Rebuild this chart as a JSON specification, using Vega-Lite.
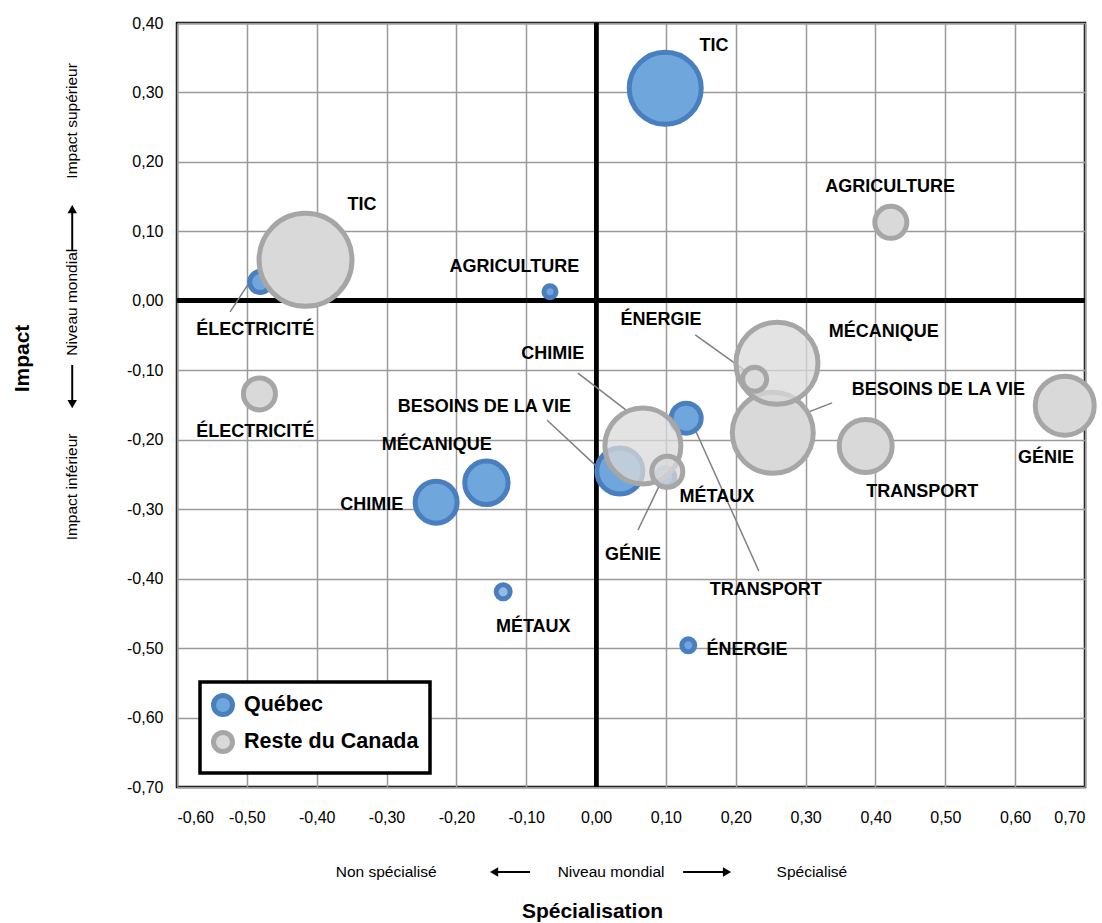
{
  "$schema": "https://vega.github.io/schema/vega-lite/v6.json",
  "width": 908,
  "height": 764,
  "autosize": {"type": "none"},
  "padding": {"left": 177, "top": 23, "right": 17, "bottom": 136},
  "background": "white",
  "config": {
    "locale": {"number": {"decimal": ",", "thousands": " ", "grouping": [3], "currency": ["", " €"], "minus": "-"}},
    "view": {"stroke": "#000000", "strokeWidth": 2.5},
    "axis": {
      "labelFont": "Liberation Sans",
      "labelFontSize": 16,
      "labelColor": "#000000",
      "grid": true,
      "gridColor": "#9a9a9a",
      "gridWidth": 1.5,
      "ticks": false,
      "domain": false,
      "titleFont": "Liberation Sans",
      "titleFontWeight": "bold",
      "titleFontSize": 21,
      "titleColor": "#000000"
    },
    "legend": {
      "orient": "none",
      "legendX": 23,
      "legendY": 659,
      "strokeColor": "#000000",
      "strokeWidth": 3.5,
      "fillColor": "#ffffff",
      "padding": 11,
      "labelFont": "Liberation Sans",
      "labelFontWeight": "bold",
      "labelFontSize": 21.5,
      "labelColor": "#000000",
      "labelLimit": 300,
      "labelOffset": 9,
      "symbolSize": 360,
      "symbolStrokeWidth": 5,
      "rowPadding": -3
    }
  },
  "datasets": {
    "bulles": [
      {"region": "Québec", "secteur": "TIC", "specialisation": 0.099, "impact": 0.306, "volume": 1296, "motif": "uni", "labX": 0.169, "labY": 0.367},
      {"region": "Québec", "secteur": "ÉLECTRICITÉ", "specialisation": -0.481, "impact": 0.027, "volume": 110, "motif": "uni", "labX": -0.488, "labY": -0.042, "lx1": -0.524, "ly1": -0.016, "lx2": -0.498, "ly2": 0.024},
      {"region": "Québec", "secteur": "AGRICULTURE", "specialisation": -0.066, "impact": 0.013, "volume": 36, "motif": "uni", "labX": -0.117, "labY": 0.049},
      {"region": "Québec", "secteur": "CHIMIE", "specialisation": -0.229, "impact": -0.29, "volume": 441, "motif": "uni", "labX": -0.321, "labY": -0.294},
      {"region": "Québec", "secteur": "MÉCANIQUE", "specialisation": -0.157, "impact": -0.262, "volume": 470, "motif": "uni", "labX": -0.228, "labY": -0.207},
      {"region": "Québec", "secteur": "MÉTAUX", "specialisation": -0.133, "impact": -0.419, "volume": 49, "motif": "quadrillé", "labX": -0.09, "labY": -0.47},
      {"region": "Québec", "secteur": "ÉNERGIE", "specialisation": 0.132, "impact": -0.496, "volume": 42, "motif": "uni", "labX": 0.216, "labY": -0.503},
      {"region": "Québec", "secteur": "TRANSPORT", "specialisation": 0.129, "impact": -0.169, "volume": 225, "motif": "uni", "labX": 0.243, "labY": -0.416, "lx1": 0.142, "ly1": -0.186, "lx2": 0.233, "ly2": -0.389},
      {"region": "Québec", "secteur": "BESOINS DE LA VIE", "specialisation": 0.034, "impact": -0.245, "volume": 529, "motif": "uni", "labX": -0.16, "labY": -0.153, "lx1": -0.07, "ly1": -0.172, "lx2": 0.01, "ly2": -0.247},
      {"region": "Québec", "secteur": "GÉNIE", "specialisation": 0.099, "impact": -0.254, "volume": 90, "motif": "uni", "labX": 0.053, "labY": -0.366, "lx1": 0.06, "ly1": -0.33, "lx2": 0.0916, "ly2": -0.264},
      {"region": "Reste du Canada", "secteur": "TIC", "specialisation": -0.416, "impact": 0.059, "volume": 2160, "motif": "uni", "labX": -0.335, "labY": 0.138},
      {"region": "Reste du Canada", "secteur": "AGRICULTURE", "specialisation": 0.422, "impact": 0.113, "volume": 256, "motif": "uni", "labX": 0.421, "labY": 0.164},
      {"region": "Reste du Canada", "secteur": "ÉLECTRICITÉ", "specialisation": -0.482, "impact": -0.134, "volume": 256, "motif": "uni", "labX": -0.488, "labY": -0.189},
      {"region": "Reste du Canada", "secteur": "BESOINS DE LA VIE", "specialisation": 0.253, "impact": -0.19, "volume": 1640, "motif": "uni", "labX": 0.49, "labY": -0.128, "lx1": 0.338, "ly1": -0.147, "lx2": 0.299, "ly2": -0.162},
      {"region": "Reste du Canada", "secteur": "MÉCANIQUE", "specialisation": 0.259, "impact": -0.09, "volume": 1680, "motif": "quadrillé", "labX": 0.412, "labY": -0.045},
      {"region": "Reste du Canada", "secteur": "ÉNERGIE", "specialisation": 0.227, "impact": -0.113, "volume": 144, "motif": "quadrillé", "labX": 0.093, "labY": -0.028, "lx1": 0.142, "ly1": -0.049, "lx2": 0.213, "ly2": -0.1},
      {"region": "Reste du Canada", "secteur": "CHIMIE", "specialisation": 0.067, "impact": -0.209, "volume": 1444, "motif": "quadrillé", "labX": -0.062, "labY": -0.077, "lx1": -0.026, "ly1": -0.104, "lx2": 0.044, "ly2": -0.158},
      {"region": "Reste du Canada", "secteur": "MÉTAUX", "specialisation": 0.102, "impact": -0.246, "volume": 240, "motif": "quadrillé", "labX": 0.173, "labY": -0.282},
      {"region": "Reste du Canada", "secteur": "TRANSPORT", "specialisation": 0.386, "impact": -0.209, "volume": 702, "motif": "uni", "labX": 0.467, "labY": -0.275},
      {"region": "Reste du Canada", "secteur": "GÉNIE", "specialisation": 0.671, "impact": -0.151, "volume": 870, "motif": "uni", "labX": 0.644, "labY": -0.226}
    ],
    "notes": [
      {"axe": "x", "texte": "Non spécialisé", "px": -0.3006, "py": -0.8225},
      {"axe": "x", "texte": "Niveau mondial", "px": 0.0215, "py": -0.8225},
      {"axe": "x", "texte": "Spécialisé", "px": 0.309, "py": -0.8225},
      {"axe": "y", "texte": "Impact supérieur", "px": -0.75, "py": 0.259},
      {"axe": "y", "texte": "Niveau mondial", "px": -0.75, "py": -0.002},
      {"axe": "y", "texte": "Impact inférieur", "px": -0.75, "py": -0.268}
    ],
    "fleches": [
      {"dir": "gauche", "tx": -0.0945, "ty": -0.8225, "hx": -0.146, "hy": -0.8225},
      {"dir": "droite", "tx": 0.1246, "ty": -0.8225, "hx": 0.1875, "hy": -0.8225},
      {"dir": "haut", "tx": -0.75, "ty": 0.0732, "hx": -0.75, "hy": 0.132},
      {"dir": "bas", "tx": -0.75, "ty": -0.0924, "hx": -0.75, "hy": -0.1487}
    ]
  },
  "layer": [
    {
      "data": {"name": "bulles"},
      "mark": {"type": "rule", "color": "#000000", "strokeWidth": 4},
      "encoding": {
        "x": {"datum": 0, "type": "quantitative", "scale": {"domain": [-0.6, 0.7], "nice": false, "zero": false},
          "axis": {"values": [-0.6, -0.5, -0.4, -0.3, -0.2, -0.1, 0, 0.1, 0.2, 0.3, 0.4, 0.5, 0.6, 0.7], "format": ".2f", "labelPadding": 22,
            "title": "Spécialisation", "titleX": 415, "titleY": 124, "titleBaseline": "middle", "titleAlign": "center"}}
      }
    },
    {
      "data": {"name": "bulles"},
      "mark": {"type": "rule", "color": "#000000", "strokeWidth": 4},
      "encoding": {
        "y": {"datum": 0, "type": "quantitative", "scale": {"domain": [-0.7, 0.4], "nice": false, "zero": false},
          "axis": {"values": [-0.7, -0.6, -0.5, -0.4, -0.3, -0.2, -0.1, 0, 0.1, 0.2, 0.3, 0.4], "format": ".2f", "labelPadding": 14,
            "title": "Impact", "titleX": -155, "titleY": 335, "titleBaseline": "middle", "titleAlign": "center", "titleAngle": -90}}
      }
    },
    {
      "data": {"name": "bulles"},
      "transform": [{"filter": "isValid(datum.lx1)"}],
      "mark": {"type": "rule", "color": "#7f7f7f", "strokeWidth": 1.5},
      "encoding": {
        "x": {"field": "lx1", "type": "quantitative"},
        "y": {"field": "ly1", "type": "quantitative"},
        "x2": {"field": "lx2"},
        "y2": {"field": "ly2"}
      }
    },
    {
      "data": {"name": "bulles"},
      "mark": {"type": "point", "shape": "circle", "filled": true, "strokeWidth": 5, "opacity": 1},
      "encoding": {
        "x": {"field": "specialisation", "type": "quantitative"},
        "y": {"field": "impact", "type": "quantitative"},
        "size": {"field": "volume", "type": "quantitative", "scale": {"type": "linear", "domain": [0, 2500], "range": [0, 10000]}, "legend": null},
        "fill": {"field": "region", "type": "nominal", "scale": {"domain": ["Québec", "Reste du Canada"], "range": ["#6fa6dc", "#d9d9d9"]}, "legend": {"title": null}},
        "stroke": {"field": "region", "type": "nominal", "scale": {"domain": ["Québec", "Reste du Canada"], "range": ["#4a7fbf", "#a6a6a6"]}, "legend": {"title": null}},
        "fillOpacity": {"field": "motif", "type": "nominal", "scale": {"domain": ["uni", "quadrillé"], "range": [1, 0.75]}, "legend": null}
      }
    },
    {
      "data": {"name": "bulles"},
      "mark": {"type": "text", "font": "Liberation Sans", "fontWeight": "bold", "fontSize": 18, "color": "#000000", "align": "center", "baseline": "middle"},
      "encoding": {
        "x": {"field": "labX", "type": "quantitative"},
        "y": {"field": "labY", "type": "quantitative"},
        "text": {"field": "secteur"}
      }
    },
    {
      "data": {"name": "notes"},
      "transform": [{"filter": "datum.axe === 'x'"}],
      "mark": {"type": "text", "font": "Liberation Sans", "fontSize": 15.5, "color": "#000000", "align": "center", "baseline": "middle"},
      "encoding": {
        "x": {"field": "px", "type": "quantitative"},
        "y": {"field": "py", "type": "quantitative"},
        "text": {"field": "texte"}
      }
    },
    {
      "data": {"name": "notes"},
      "transform": [{"filter": "datum.axe === 'y'"}],
      "mark": {"type": "text", "font": "Liberation Sans", "fontSize": 15.5, "color": "#000000", "align": "center", "baseline": "middle", "angle": 270},
      "encoding": {
        "x": {"field": "px", "type": "quantitative"},
        "y": {"field": "py", "type": "quantitative"},
        "text": {"field": "texte"}
      }
    },
    {
      "data": {"name": "fleches"},
      "mark": {"type": "rule", "color": "#000000", "strokeWidth": 2},
      "encoding": {
        "x": {"field": "tx", "type": "quantitative"},
        "y": {"field": "ty", "type": "quantitative"},
        "x2": {"field": "hx"},
        "y2": {"field": "hy"}
      }
    },
    {
      "data": {"name": "fleches"},
      "mark": {"type": "point", "filled": true, "color": "#000000", "size": 90, "opacity": 1},
      "encoding": {
        "x": {"field": "hx", "type": "quantitative"},
        "y": {"field": "hy", "type": "quantitative"},
        "shape": {"field": "dir", "type": "nominal", "scale": {"domain": ["gauche", "droite", "haut", "bas"], "range": ["triangle-left", "triangle-right", "triangle-up", "triangle-down"]}, "legend": null}
      }
    }
  ],
  "resolve": {"scale": {"shape": "independent"}}
}
